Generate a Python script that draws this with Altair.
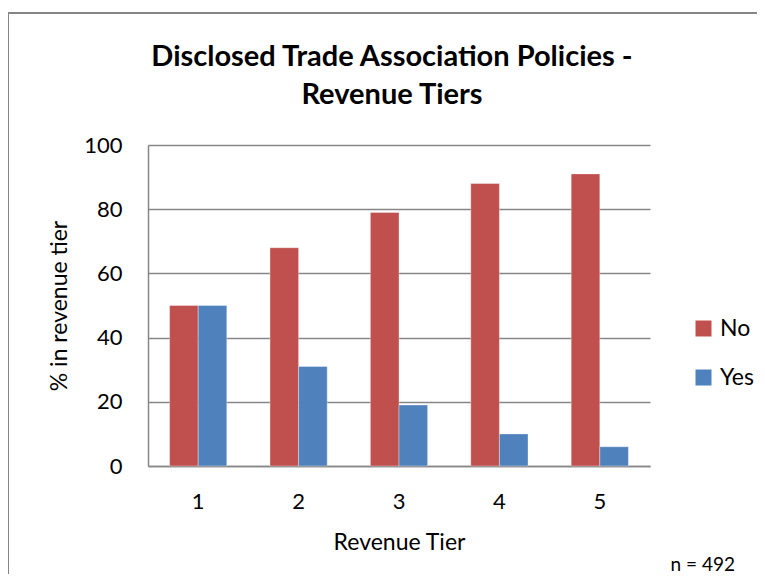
import altair as alt
import pandas as pd

tiers = ["1", "2", "3", "4", "5"]
no_vals = [50, 68, 79, 88, 91]
yes_vals = [50, 31, 19, 10, 6]
series = ["No", "Yes"]
colors = ["#C0504D", "#4F81BD"]
y_ticks = [0, 20, 40, 60, 80, 100]
note = "n = 492"

rows = []
for t, n, y in zip(tiers, no_vals, yes_vals):
    rows.append({"tier": t, "response": "No", "pct": n})
    rows.append({"tier": t, "response": "Yes", "pct": y})
df = pd.DataFrame(rows)

FONT = "Lato"

bars = alt.Chart(df).mark_bar(stroke="white", strokeOpacity=0.35, strokeWidth=1).encode(
    x=alt.X("tier:N", sort=tiers,
            scale=alt.Scale(paddingInner=0.43, paddingOuter=0.215),
            axis=alt.Axis(title="Revenue Tier", labelAngle=0, grid=False,
                          labelPadding=25, titlePadding=19)),
    xOffset=alt.XOffset("response:N", sort=series,
                        scale=alt.Scale(paddingInner=0, paddingOuter=0)),
    y=alt.Y("pct:Q", scale=alt.Scale(domain=[0, 100]),
            axis=alt.Axis(title="% in revenue tier", values=y_ticks, grid=True,
                          labelPadding=26, titlePadding=12)),
    color=alt.Color("response:N",
                    scale=alt.Scale(domain=series, range=colors),
                    legend=alt.Legend(title=None, orient="none", legendX=544, legendY=172,
                                      symbolType="square", symbolSize=256,
                                      symbolStrokeWidth=0, labelFontSize=23,
                                      labelFont=FONT, labelColor="black",
                                      rowPadding=25, labelOffset=5)),
)

border = alt.Chart(pd.DataFrame({"a": [0]})).mark_rect(
    filled=False, stroke="#868686", strokeWidth=2
).encode(
    x=alt.value(-140), x2=alt.value(700), y=alt.value(-132), y2=alt.value(600)
)

note_text = alt.Chart(pd.DataFrame({"label": [note]})).mark_text(
    align="right", baseline="middle", font=FONT, fontSize=19, color="black"
).encode(
    text="label:N", x=alt.value(587), y=alt.value(420)
)

chart = alt.layer(border, bars, note_text).properties(
    width=502, height=321,
    autosize=alt.AutoSizeParams(type="none"),
    padding={"left": 140, "top": 137, "right": 107, "bottom": 108},
    title=alt.TitleParams(["Disclosed Trade Association Policies -", "Revenue Tiers"],
                          font=FONT, fontSize=29, fontWeight="bold", color="black",
                          anchor="middle", frame="group", dx=-7, lineHeight=38,
                          offset=-98),
).configure_view(stroke=None).configure_axis(
    labelFont=FONT, titleFont=FONT, labelFontSize=22, titleFontSize=23,
    labelColor="black", titleColor="black", titleFontWeight="normal",
    domainColor="#868686", domainWidth=1.5, gridColor="#868686", gridWidth=1.5,
    ticks=False,
)

chart.save("out.html", embed_options={"renderer": "svg", "actions": False})
